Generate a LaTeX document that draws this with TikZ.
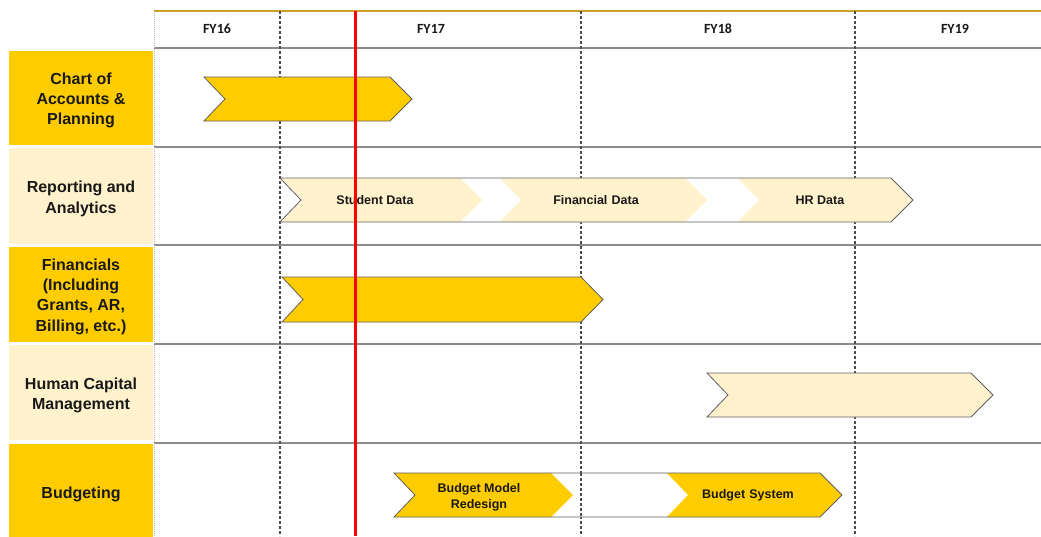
\documentclass[tikz,border=0pt]{standalone}
\usepackage{fontspec}
\setmainfont{Liberation Sans}
\newfontfamily\fyfont{Carlito}
\definecolor{gold}{HTML}{FFCC00}
\definecolor{cream}{HTML}{FFF2CC}
\definecolor{hdrgold}{HTML}{C9A227}
\definecolor{gridgray}{HTML}{8C8C8C}
\definecolor{dashgray}{HTML}{4D4D4D}
\definecolor{edgegray}{HTML}{5F5F5F}
\tikzset{
  labelbox/.style={rectangle, inner sep=0pt, minimum width=144pt},
  labeltext/.style={inner sep=0pt, align=center,
    font=\bfseries\fontsize{16}{20.3}\selectfont, text=black!90},
  gridline/.style={draw=gridgray, line width=1.8pt},
  yeardash/.style={draw=dashgray, line width=1.3pt, dash pattern=on 3pt off 2pt},
  fylabel/.style={font=\fyfont\bfseries\fontsize{14}{16}\selectfont, text=black!90},
  chevtext/.style={font=\bfseries\fontsize{12.5}{16}\selectfont, align=center, text=black!90},
  goldchev/.style={fill=gold, draw=edgegray, line width=0.8pt},
  creamchev/.style={fill=cream, draw=edgegray, line width=0.8pt},
  creamfill/.style={fill=cream},
  goldfill/.style={fill=gold},
  outlinechev/.style={draw=edgegray, line width=0.8pt}
}
% #1 style, #2 left x, #3 tip x, #4 top y, #5 bottom y
\newcommand{\mychev}[5]{\path[#1] (#2,#4) -- ({#3-22},#4) -- (#3,{(#4+#5)/2}) -- ({#3-22},#5) -- (#2,#5) -- ({#2+21},{(#4+#5)/2}) -- cycle;}
\begin{document}
\begin{tikzpicture}[x=1pt, y=-1pt]
\useasboundingbox (0,0) rectangle (1041,536);
\fill[white] (0,0) rectangle (1041,536);

% row label boxes
\node[labelbox, fill=gold, minimum height=94pt] (r1) at (81,98) {};
\node[labelbox, fill=cream, minimum height=96pt] (r2) at (81,196) {};
\node[labelbox, fill=gold, minimum height=95pt] (r3) at (81,294.5) {};
\node[labelbox, fill=cream, minimum height=95pt] (r4) at (81,392.5) {};
\node[labelbox, fill=gold, minimum height=97pt] (r5) at (81,492.5) {};
\node[labeltext] (t1) at (81,100.5) {Chart of\\Accounts \&\\Planning};
\node[labeltext] (t2) at (81,199) {Reporting and\\Analytics};
\node[labeltext] (t3) at (81,296.5) {Financials\\(Including\\Grants, AR,\\Billing, etc.)};
\node[labeltext] (t4) at (81,395.5) {Human Capital\\Management};
\node[labeltext] (t5) at (81,494) {Budgeting};

% horizontal grid lines
\foreach \yy in {48,147,245,344,443} {
  \draw[gridline] (154,\yy) -- (1041,\yy);
}
% header top line
\draw[draw=hdrgold, line width=2pt] (154,11) -- (1041,11);
% left dotted line
\draw[draw=gray!60, line width=0.8pt, dash pattern=on 1pt off 1pt] (154,11) -- (154,536);
% year dashed lines
\foreach \xx in {280,581,855} {
  \draw[yeardash] (\xx,11) -- (\xx,536);
}

% year labels
\node[fylabel] (fy16) at (217,29) {FY16};
\node[fylabel] (fy17) at (431,29) {FY17};
\node[fylabel] (fy18) at (718,29) {FY18};
\node[fylabel] (fy19) at (955,29) {FY19};

% row 1
\mychev{goldchev}{204}{412}{77}{121}

% row 2
\fill[white] (280,178) -- (891,178) -- (913,200) -- (891,222) -- (280,222) -- (301,200) -- cycle;
\mychev{creamfill}{281}{482}{178}{222}
\mychev{creamfill}{500}{707}{178}{222}
\mychev{creamfill}{738}{913}{178}{222}
\mychev{outlinechev}{280}{913}{178}{222}
\node[chevtext] (sd) at (375,200) {Student Data};
\node[chevtext] (fd) at (596,200) {Financial\,\,Data};
\node[chevtext] (hr) at (820,200) {HR Data};

% row 3
\mychev{goldchev}{282}{603}{277}{322}

% row 4
\mychev{creamchev}{707}{993}{373}{417}

% row 5
\fill[white] (394,473) -- (819,473) -- (842,495) -- (819,517) -- (394,517) -- (417,495) -- cycle;
\mychev{goldfill}{394}{573}{473}{517}
\mychev{goldfill}{667}{842}{473}{517}
\draw[yeardash] (581,473) -- (581,517);
\mychev{outlinechev}{394}{842}{473}{517}
\node[chevtext] (bmr) at (479,497) {Budget Model\\Redesign};
\node[chevtext] (bs) at (748,495) {Budget\,\,System};

% today line
\draw[draw=red, line width=3pt] (355,11) -- (355,536);
\end{tikzpicture}
\end{document}
